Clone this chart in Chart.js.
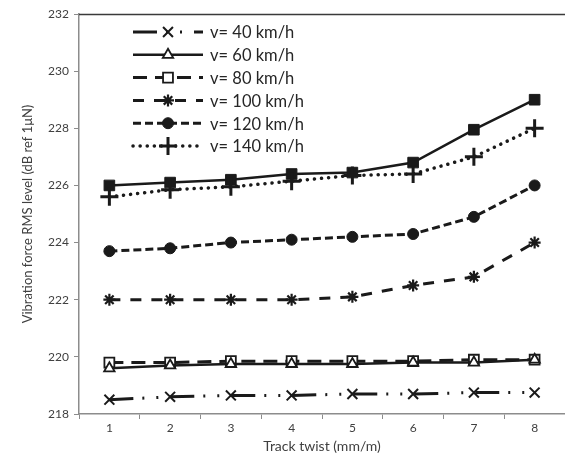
<!DOCTYPE html>
<html>
<head>
<meta charset="utf-8">
<script src="https://cdn.jsdelivr.net/npm/chart.js@4.4.1/dist/chart.umd.min.js"></script>
<style>
  html, body { margin: 0; padding: 0; background: #fff; }
  #wrap { width: 565px; height: 460px; }
</style>
</head>
<body>
<div id="wrap"><canvas id="myChart" width="565" height="460"></canvas></div>
<script>
// track twist categories
let twist = ['1', '2', '3', '4', '5', '6', '7', '8'];

// RMS level per speed
let v40 = [218.5, 218.6, 218.65, 218.65, 218.7, 218.7, 218.75, 218.75];
let v60 = [219.6, 219.7, 219.75, 219.75, 219.75, 219.8, 219.8, 219.9];
let v80 = [219.8, 219.8, 219.85, 219.85, 219.85, 219.85, 219.9, 219.9];
let v100 = [222.0, 222.0, 222.0, 222.0, 222.1, 222.5, 222.8, 224.0];
let v120 = [223.7, 223.8, 224.0, 224.1, 224.2, 224.3, 224.9, 226.0];
let v140 = [225.6, 225.85, 225.95, 226.15, 226.35, 226.4, 227.0, 228.0];
let v160 = [226.0, 226.1, 226.2, 226.4, 226.45, 226.8, 227.95, 229.0];

let labels = ['v= 40 km/h', 'v= 60 km/h', 'v= 80 km/h', 'v= 100 km/h', 'v= 120 km/h', 'v= 140 km/h', 'v= 160 km/h'];

let ink = '#1a1a1a';

function series(label, data, dash, width, style, radius, fill, pbw) {
    return {
        label: label,
        data: data,
        borderColor: ink,
        borderWidth: width,
        borderDash: dash,
        borderCapStyle: dash.length && dash[0] < 1 ? 'round' : 'butt',
        pointStyle: style,
        pointRadius: radius,
        pointHoverRadius: radius,
        pointBackgroundColor: fill,
        pointBorderColor: ink,
        pointBorderWidth: pbw,
        fill: false,
        tension: 0
    };
}

// draws the legend with line samples and markers, and the top frame line
let legendPlugin = {
    id: 'lineLegend',
    afterDraw(chart) {
        let ctx = chart.ctx;
        let area = chart.chartArea;
        ctx.save();
        ctx.strokeStyle = '#3a3a3a';
        ctx.lineWidth = 1.5;
        ctx.beginPath();
        ctx.moveTo(area.left, area.top + 0.5);
        ctx.lineTo(area.right, area.top + 0.5);
        ctx.stroke();

        let sets = chart.data.datasets.slice(0, 6);
        sets.forEach(function (ds, i) {
            let y = 32 + i * 22.8;
            ctx.save();
            ctx.strokeStyle = ds.borderColor;
            ctx.lineWidth = ds.borderWidth;
            ctx.setLineDash(ds.borderDash);
            ctx.lineCap = ds.borderCapStyle;
            ctx.beginPath();
            ctx.moveTo(133, y);
            ctx.lineTo(203, y);
            ctx.stroke();
            ctx.restore();

            ctx.save();
            ctx.fillStyle = ds.pointBackgroundColor;
            ctx.strokeStyle = ds.pointBorderColor;
            ctx.lineWidth = ds.pointBorderWidth;
            Chart.helpers.drawPoint(ctx, {
                pointStyle: ds.pointStyle,
                radius: ds.pointRadius,
                borderWidth: ds.pointBorderWidth,
                rotation: 0
            }, 168, y);
            ctx.restore();

            ctx.fillStyle = '#262626';
            ctx.font = '16.5px Lato';
            ctx.textBaseline = 'middle';
            ctx.fillText(ds.label, 210, y + 1);
        });
        ctx.restore();
    }
};

let myChart = document.getElementById('myChart').getContext('2d');

let chart = new Chart(myChart, {
    type: 'line',
    data: {
        labels: twist,
        datasets: [
            series(labels[0], v40, [24, 9, 2, 12, 2, 12], 3, 'crossRot', 7, ink, 2),
            series(labels[1], v60, [], 2.5, 'triangle', 6, '#fff', 1.8),
            series(labels[2], v80, [14, 8], 3, 'rect', 7, '#fff', 1.8),
            series(labels[3], v100, [11, 10], 3, 'star', 6, ink, 2.2),
            series(labels[4], v120, [8, 4], 3, 'circle', 5.5, ink, 1),
            series(labels[5], v140, [0.1, 7], 3.5, 'cross', 9, ink, 3),
            series(labels[6], v160, [], 2.5, 'rect', 7.5, ink, 1)
        ]
    },
    options: {
        responsive: false,
        animation: false,
        layout: {
            autoPadding: false,
            padding: { top: 14, right: 0, bottom: 0, left: 0 }
        },
        plugins: {
            legend: { display: false },
            tooltip: { enabled: false }
        },
        scales: {
            x: {
                offset: true,
                grid: {
                    offset: true,
                    drawOnChartArea: false,
                    drawTicks: true,
                    tickLength: 5,
                    color: '#8c8c8c'
                },
                border: { color: '#8c8c8c', width: 1.5 },
                ticks: {
                    color: '#404040',
                    font: { family: 'Lato', size: 12 },
                    padding: 2
                },
                title: {
                    display: true,
                    text: 'Track twist (mm/m)',
                    color: '#404040',
                    font: { family: 'Lato', size: 14 },
                    padding: { top: 4, bottom: 5 }
                },
                afterFit(scale) { scale.height = 46; }
            },
            y: {
                min: 218,
                max: 232,
                ticks: {
                    stepSize: 2,
                    color: '#404040',
                    font: { family: 'Lato', size: 12 },
                    padding: 5
                },
                grid: {
                    drawOnChartArea: false,
                    drawTicks: true,
                    tickLength: 5,
                    color: '#8c8c8c'
                },
                border: { color: '#8c8c8c', width: 1.5 },
                title: {
                    display: true,
                    text: 'Vibration force RMS level (dB ref 1μN)',
                    color: '#404040',
                    font: { family: 'Lato', size: 13 },
                    padding: { top: 20, bottom: 0 }
                },
                afterFit(scale) { scale.width = 79; }
            }
        }
    },
    plugins: [legendPlugin]
});
</script>
</body>
</html>
